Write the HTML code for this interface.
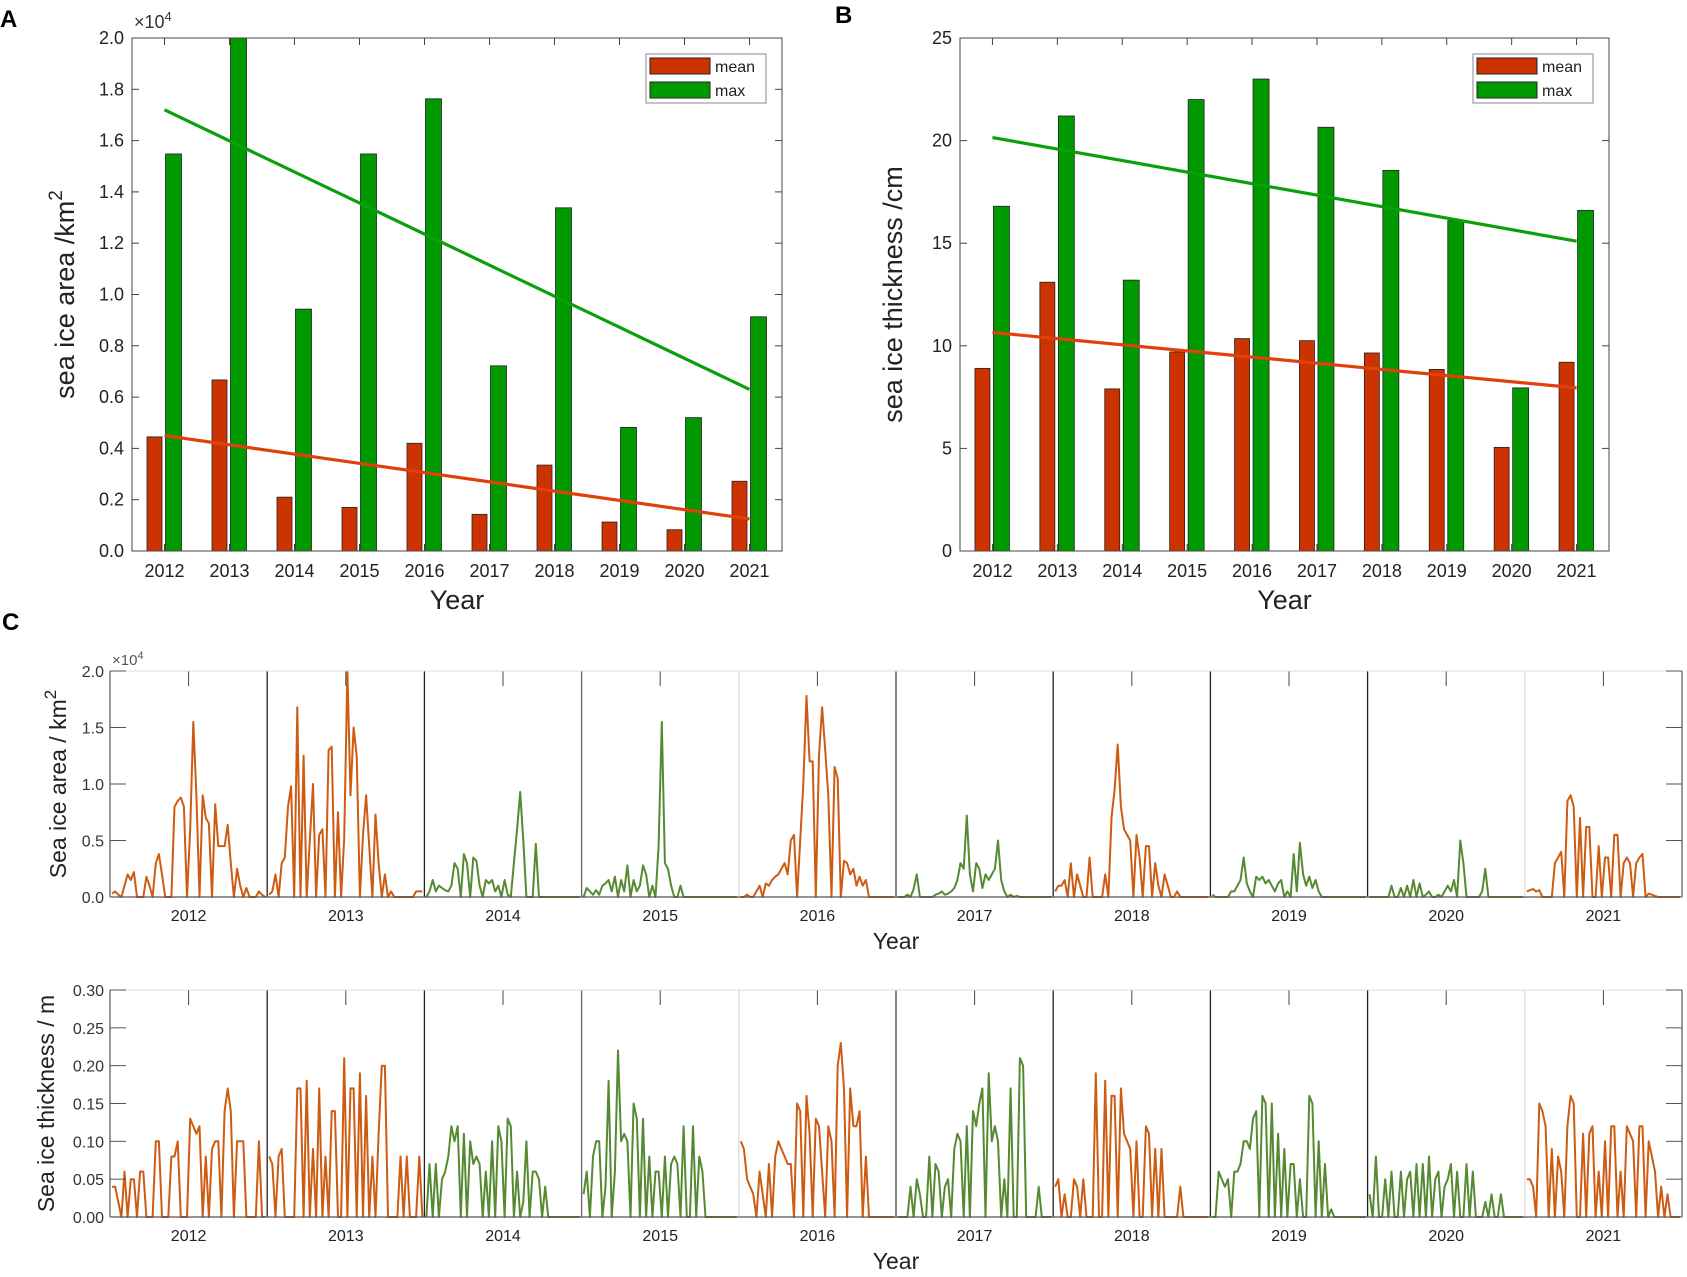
<!DOCTYPE html>
<html><head><meta charset="utf-8">
<style>
html,body{margin:0;padding:0;background:#fff;}
svg{display:block;font-family:"Liberation Sans",Arial,sans-serif;}
</style></head>
<body>
<svg id="fig" width="1687" height="1277" viewBox="0 0 1687 1277" xmlns="http://www.w3.org/2000/svg">
<rect width="1687" height="1277" fill="#fff"/>
<text x="0" y="27" font-size="24" font-weight="bold">A</text>
<text x="835" y="23" font-size="24" font-weight="bold">B</text>
<text x="2" y="630" font-size="24" font-weight="bold">C</text>
<g id="gA"></g>
<g id="gB"></g>
<g id="gC1"></g>
<g id="gC2"></g>
</svg>
<script>
const years = ['2012','2013','2014','2015','2016','2017','2018','2019','2020','2021'];
const areaMean = [0.445,0.667,0.21,0.17,0.42,0.143,0.335,0.113,0.083,0.272];
const areaMax = [1.548,2.0,0.943,1.548,1.763,0.722,1.338,0.482,0.52,0.913];
const areaTrendMean = [0.45,0.125];
const areaTrendMax = [1.72,0.63];
const areaTicks = ['0.0','0.2','0.4','0.6','0.8','1.0','1.2','1.4','1.6','1.8','2.0'];
const thickMean = [8.9,13.1,7.9,9.7,10.35,10.25,9.65,8.85,5.05,9.2];
const thickMax = [16.8,21.2,13.2,22.0,23.0,20.65,18.55,16.1,7.95,16.6];
const thickTrendMean = [10.65,7.95];
const thickTrendMax = [20.15,15.1];
const thickTicks = ['0','5','10','15','20','25'];
const seriesColorGroup = ['o','o','g','g','o','g','o','g','g','o'];

const area2012=[0.03,0.05,0.02,0,0.1,0.2,0.15,0.22,0,0,0,0.18,0.1,0,0.3,0.38,0.2,0,0,0,0.8,0.85,0.88,0.8,0,0.6,1.55,0.9,0,0.9,0.7,0.65,0,0.82,0.45,0.45,0.45,0.64,0.3,0,0.25,0.1,0,0.08,0,0,0,0.05,0.02,0];
const area2013=[0.02,0.05,0.2,0,0.3,0.35,0.8,0.98,0,1.68,0,1.25,0,0.5,1.0,0,0.55,0.6,0,1.3,1.33,0,0.75,0,0.52,2.0,0.9,1.5,1.25,0,0.55,0.9,0.45,0,0.73,0.3,0,0.2,0,0.05,0,0,0,0,0,0,0,0.05,0.05,0.05];
const area2014=[0,0.05,0.15,0.05,0.1,0.08,0.06,0.05,0.1,0.3,0.25,0,0.38,0.3,0,0.35,0.32,0.1,0,0.15,0.12,0.15,0.05,0.1,0,0.15,0.02,0,0.3,0.6,0.93,0.5,0,0,0,0.47,0,0,0,0,0,0,0,0,0,0,0,0,0,0];
const area2015=[0,0.08,0.05,0.02,0.06,0.02,0.1,0.12,0.15,0.05,0.18,0,0.15,0.05,0.28,0,0.15,0.05,0.1,0.28,0.2,0,0.1,0,0.45,1.55,0.3,0.25,0.1,0,0,0.1,0,0,0,0,0,0,0,0,0,0,0,0,0,0,0,0,0,0];
const area2016=[0,0,0.02,0,0,0.05,0.1,0,0.12,0.1,0.15,0.18,0.2,0.25,0.3,0.2,0.5,0.55,0,0.5,1.0,1.78,1.2,1.2,0,1.25,1.68,1.3,0.9,0,1.15,1.05,0,0.32,0.3,0.2,0.25,0.1,0.18,0.1,0.15,0,0,0,0,0,0,0,0,0];
const area2017=[0,0,0,0.02,0,0.07,0.2,0,0,0,0,0,0.02,0.03,0.05,0.02,0.03,0.05,0.08,0.15,0.3,0.25,0.72,0.2,0.05,0.3,0.25,0.08,0.2,0.15,0.2,0.25,0.5,0.15,0.05,0,0.02,0,0.01,0,0,0,0,0,0,0,0,0,0,0];
const area2018=[0.05,0.1,0.1,0.15,0,0.3,0,0.2,0.1,0,0,0.35,0,0,0,0,0.2,0,0.7,0.95,1.35,0.8,0.6,0.55,0.5,0,0.55,0.35,0,0.45,0.45,0,0.3,0.1,0,0.2,0.1,0,0,0.05,0,0,0,0,0,0,0,0,0,0];
const area2019=[0.02,0,0,0,0,0,0.05,0.05,0.1,0.15,0.35,0.12,0.05,0,0.18,0.15,0.18,0.12,0.15,0.1,0.05,0.12,0.15,0,0.05,0,0.38,0.05,0.48,0.2,0.1,0.18,0.08,0.15,0.05,0,0,0,0,0,0,0,0,0,0,0,0,0,0,0];
const area2020=[0,0,0,0,0,0,0,0.1,0,0,0.08,0,0.1,0,0.15,0,0.12,0,0.02,0.05,0,0,0.02,0,0.05,0.1,0.05,0.15,0,0.5,0.3,0,0,0,0,0,0.05,0.25,0,0,0,0,0,0,0,0,0,0,0,0];
const area2021=[0.05,0.06,0.07,0.05,0.06,0,0,0,0,0.3,0.35,0.4,0,0.85,0.9,0.8,0,0.7,0,0.62,0.62,0,0,0.45,0,0.35,0.35,0,0.55,0.55,0,0.3,0.35,0.3,0,0.3,0.35,0.38,0,0.03,0.02,0.01,0,0,0,0,0,0,0,0];

const thick2012=[0.04,0.04,0.02,0,0.06,0,0.05,0.05,0,0.06,0.06,0,0,0,0.1,0.1,0,0,0,0.08,0.08,0.1,0,0,0,0.13,0.12,0.11,0.12,0,0.08,0,0.09,0.1,0.1,0,0.14,0.17,0.14,0,0.1,0.1,0.1,0,0,0,0,0.1,0,0];
const thick2013=[0.08,0.07,0,0.08,0.09,0,0,0,0,0.17,0.17,0,0.18,0,0.09,0,0.17,0,0.08,0,0.14,0.14,0,0,0.21,0,0.17,0.17,0,0.19,0,0.16,0,0.08,0,0.11,0.2,0.2,0,0,0,0,0.08,0,0.08,0,0,0,0.08,0];
const thick2014=[0,0.07,0,0.07,0,0.05,0.06,0.08,0.12,0.1,0.12,0,0.11,0,0.1,0.07,0.08,0.07,0,0.06,0,0.1,0,0.12,0.1,0,0.13,0.12,0,0.06,0,0.02,0.1,0,0.06,0.06,0.05,0,0.04,0,0,0,0,0,0,0,0,0,0,0];
const thick2015=[0.03,0.06,0,0.08,0.1,0.1,0,0.04,0.18,0,0.06,0.22,0.1,0.11,0.1,0,0.15,0.13,0,0.13,0,0.08,0,0.06,0.06,0,0.08,0,0.07,0.08,0.07,0,0.12,0,0,0.12,0,0.08,0.06,0,0,0,0,0,0,0,0,0,0,0];
const thick2016=[0.1,0.09,0.05,0.04,0.03,0,0.06,0.03,0,0.07,0,0.08,0.1,0.09,0.08,0.07,0.07,0,0.15,0.14,0,0.16,0.11,0,0.13,0.12,0.06,0,0.12,0.1,0,0.2,0.23,0.17,0,0.17,0.12,0.12,0.14,0,0.08,0,0,0,0,0,0,0,0,0];
const thick2017=[0,0,0,0,0.04,0,0.05,0.03,0,0,0.08,0,0.07,0.06,0,0.04,0.05,0,0.09,0.11,0.1,0,0.12,0,0.14,0.12,0.15,0.17,0,0.19,0.1,0.12,0.1,0,0.05,0,0.17,0,0,0.21,0.2,0,0,0,0,0.04,0,0,0,0];
const thick2018=[0.04,0.05,0,0.03,0,0,0.05,0.04,0,0.05,0,0,0,0.19,0,0,0.18,0,0.16,0.16,0,0.17,0.11,0.1,0.09,0,0.1,0,0,0.12,0.11,0,0.09,0,0.09,0,0,0,0,0,0.04,0,0,0,0,0,0,0,0,0];
const thick2019=[0,0,0.06,0.05,0.04,0.05,0,0.06,0.06,0.07,0.1,0.1,0.09,0.13,0.14,0,0.16,0.15,0,0.15,0,0.11,0,0.09,0,0.07,0.07,0,0.05,0,0,0.16,0.15,0,0.1,0,0.07,0,0.01,0,0,0,0,0,0,0,0,0,0,0];
const thick2020=[0.03,0,0.08,0,0,0.05,0,0.06,0,0,0.06,0,0.05,0.06,0,0.07,0,0.07,0,0.08,0,0.05,0.06,0,0.04,0.05,0.07,0,0.06,0,0,0.07,0,0.06,0,0,0,0.02,0,0.03,0,0,0.03,0,0,0,0,0,0,0];
const thick2021=[0.05,0.05,0.04,0,0.15,0.14,0.12,0,0.09,0,0.08,0.06,0,0.12,0.16,0.15,0,0,0.11,0,0.11,0.12,0,0.06,0,0.1,0,0.12,0.12,0,0.06,0,0.12,0.11,0.1,0,0.12,0.12,0,0.1,0.08,0.06,0,0.04,0,0.03,0,0,0,0];

const areaSeries=[area2012,area2013,area2014,area2015,area2016,area2017,area2018,area2019,area2020,area2021];
const thickSeries=[thick2012,thick2013,thick2014,thick2015,thick2016,thick2017,thick2018,thick2019,thick2020,thick2021];
const areaTicksC=['0.0','0.5','1.0','1.5','2.0'];
const thickTicksC=['0.00','0.05','0.10','0.15','0.20','0.25','0.30'];

const NS='http://www.w3.org/2000/svg';
function mk(parent,tag,attrs,text){const e=document.createElementNS(NS,tag);for(const k in attrs)e.setAttribute(k,attrs[k]);if(text!==undefined)e.textContent=text;parent.appendChild(e);return e;}

function barPanel(g,x0,x1,y0,y1,ymax,meanV,maxV,trM,trX,ticks,ylabel,legX,exp){
  const n=years.length,step=(x1-x0)/n;
  const xs=i=>x0+(i+0.5)*step;
  const ys=v=>y1-(v/ymax)*(y1-y0);
  for(let i=0;i<n;i++){
    const c=xs(i);
    let r=mk(g,'rect',{x:c-17.5,y:ys(meanV[i]),width:15,height:y1-ys(meanV[i]),fill:'#cc3300',stroke:'#222','stroke-width':0.8});
    
    
    let r2=mk(g,'rect',{x:c+1,y:ys(maxV[i]),width:16,height:y1-ys(maxV[i]),fill:'#009900',stroke:'#222','stroke-width':0.8});
    
    
  }
  let l1=mk(g,'line',{x1:xs(0),y1:ys(trX[0]),x2:xs(n-1),y2:ys(trX[1]),stroke:'#0aa00a','stroke-width':3.2});
  
  
  let l2=mk(g,'line',{x1:xs(0),y1:ys(trM[0]),x2:xs(n-1),y2:ys(trM[1]),stroke:'#e0400c','stroke-width':3.2});
  
  
  let box=mk(g,'rect',{x:x0,y:y0,width:x1-x0,height:y1-y0,fill:'none',stroke:'#444','stroke-width':1});
  
  
  ticks.forEach((t,k)=>{
    const v=parseFloat(t),y=ys(v);
    mk(g,'line',{x1:x0,y1:y,x2:x0+7,y2:y,stroke:'#444'});
    mk(g,'line',{x1:x1,y1:y,x2:x1-7,y2:y,stroke:'#444'});
    let tx=mk(g,'text',{x:x0-8,y:y+6,'font-size':18,'text-anchor':'end',fill:'#222'},t);
    
    
  });
  for(let i=0;i<n;i++){
    const c=xs(i);
    mk(g,'line',{x1:c,y1:y1,x2:c,y2:y1-7,stroke:'#444'});
    mk(g,'line',{x1:c,y1:y0,x2:c,y2:y0+7,stroke:'#444'});
    let tx=mk(g,'text',{x:c,y:y1+26,'font-size':18,'text-anchor':'middle',fill:'#222'},years[i]);
    
    
  }
  let xl=mk(g,'text',{x:(x0+x1)/2,y:y1+58,'font-size':27,'text-anchor':'middle',fill:'#222'},'Year');
  
  
  const cy=(y0+y1)/2, lx=x0-58;
  let yl=mk(g,'text',{x:lx,y:cy,'font-size':27,'text-anchor':'middle',fill:'#222',transform:`rotate(-90 ${lx} ${cy})`});
  
  
  yl.innerHTML=ylabel;
  if(exp){let e=mk(g,'text',{x:x0+2,y:y0-10,'font-size':18,fill:'#333'});e.innerHTML='×10<tspan dy="-7" font-size="13">4</tspan>';
    
    }
  const lg=mk(g,'g',{});
  
  
  mk(lg,'rect',{x:legX,y:54,width:120,height:49,fill:'#fff',stroke:'#888'});
  mk(lg,'rect',{x:legX+4,y:58,width:60,height:16,fill:'#cc3300',stroke:'#222'});
  mk(lg,'rect',{x:legX+4,y:82,width:60,height:16,fill:'#009900',stroke:'#222'});
  let t1=mk(lg,'text',{x:legX+69,y:72,'font-size':16,fill:'#222'},'mean');
  
  
  let t2=mk(lg,'text',{x:legX+69,y:96,'font-size':16,fill:'#222'},'max');
  
  
}
barPanel(document.getElementById('gA'),132,782,38,551,2.0,areaMean,areaMax,areaTrendMean,areaTrendMax,areaTicks,'sea ice area /km<tspan dy="-12" font-size="19">2</tspan>',646,true);
barPanel(document.getElementById('gB'),960,1609,38,551,25,thickMean,thickMax,thickTrendMean,thickTrendMax,thickTicks,'sea ice thickness /cm',1473,false);

function seriesPanel(g,x0,x1,y0,y1,ymax,series,ticks,ylabel,lx,exp){
  const n=years.length,w=(x1-x0)/n;
  const ys=v=>y1-(v/ymax)*(y1-y0);
  const divColors=['#222','#222','#666','#ddd','#444','#222','#222','#222','#ddd'];
  for(let i=1;i<n;i++){
    let d=mk(g,'line',{x1:x0+i*w,y1:y0,x2:x0+i*w,y2:y1,stroke:divColors[i-1],'stroke-width':1.3});
    
    
  }
  for(let i=0;i<n;i++){
    const s=series[i],m=s.length;
    let pts=s.map((v,j)=>(x0+i*w+2+j*(w-4)/(m-1)).toFixed(1)+','+ys(v).toFixed(1)).join(' ');
    let p=mk(g,'polyline',{points:pts,fill:'none',stroke:seriesColorGroup[i]==='o'?'#cd5c12':'#568a32','stroke-width':2,'stroke-linejoin':'round'});
    
    
    const c=x0+(i+0.5)*w;
    mk(g,'line',{x1:c,y1:y0,x2:c,y2:y0+15,stroke:'#444'});
    let tx=mk(g,'text',{x:c,y:y1+24,'font-size':16,'text-anchor':'middle',fill:'#222'},years[i]);
    
    
  }
  mk(g,'line',{x1:x0,y1:y0,x2:x1,y2:y0,stroke:'#ddd'});
  mk(g,'line',{x1:x0,y1:y1,x2:x1,y2:y1,stroke:'#555','stroke-width':1.2});
  mk(g,'line',{x1:x0,y1:y0,x2:x0,y2:y1,stroke:'#555','stroke-width':1.2});
  mk(g,'line',{x1:x1,y1:y0,x2:x1,y2:y1,stroke:'#555','stroke-width':1.2});
  ticks.forEach(t=>{
    const y=ys(parseFloat(t));
    mk(g,'line',{x1:x0,y1:y,x2:x0+16,y2:y,stroke:'#555'});
    mk(g,'line',{x1:x1,y1:y,x2:x1-16,y2:y,stroke:'#555'});
    let tx=mk(g,'text',{x:x0-6,y:y+6,'font-size':16,'text-anchor':'end',fill:'#333'},t);
    
    
  });
  let xl=mk(g,'text',{x:(x0+x1)/2,y:y1+52,'font-size':23,'text-anchor':'middle',fill:'#222'},'Year');
  
  
  const cy=(y0+y1)/2;
  let yl=mk(g,'text',{x:lx,y:cy,'font-size':23,'text-anchor':'middle',fill:'#222',transform:`rotate(-90 ${lx} ${cy})`});
  
  
  yl.innerHTML=ylabel;
  if(exp){let e=mk(g,'text',{x:x0+2,y:y0-6,'font-size':15,fill:'#555'});e.innerHTML='×10<tspan dy="-6" font-size="11">4</tspan>';
    
    }
}
seriesPanel(document.getElementById('gC1'),110,1682,671,897,2.0,areaSeries,areaTicksC,'Sea ice area / km<tspan dy="-10" font-size="17">2</tspan>',66,true);
seriesPanel(document.getElementById('gC2'),110,1682,990,1217,0.30,thickSeries,thickTicksC,'Sea ice thickness / m',54,false);
</script>
</body></html>
